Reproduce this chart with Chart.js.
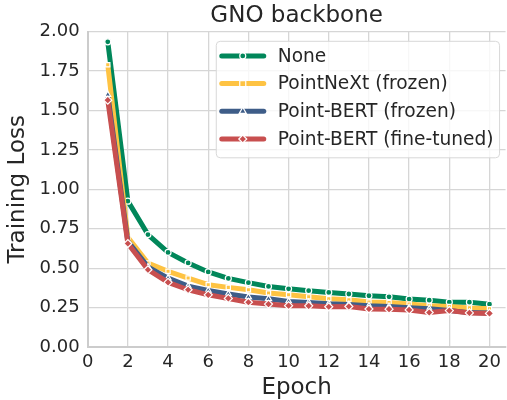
<!DOCTYPE html>
<html><head><meta charset="utf-8">
<script src="https://cdn.jsdelivr.net/npm/chart.js@4.4.1/dist/chart.umd.min.js"></script>
<style>html,body{margin:0;padding:0;background:#fff}#wrap{width:507px;height:400px;position:relative}</style>
</head><body><div id="wrap"><canvas id="c" width="507" height="400"></canvas></div>
<script>
const epochs = [1,2,3,4,5,6,7,8,9,10,11,12,13,14,15,16,17,18,19,20];
const lossNone = [1.935,0.925,0.713,0.600,0.533,0.476,0.435,0.408,0.384,0.369,0.357,0.346,0.336,0.325,0.318,0.304,0.297,0.284,0.284,0.271];
const lossPointNeXtFrozen = [1.790,0.695,0.533,0.480,0.437,0.395,0.378,0.363,0.342,0.331,0.318,0.306,0.300,0.285,0.282,0.272,0.261,0.257,0.248,0.242];
const lossPointBertFrozen = [1.600,0.670,0.508,0.437,0.386,0.358,0.336,0.317,0.306,0.289,0.282,0.274,0.270,0.261,0.257,0.249,0.242,0.232,0.218,0.216];
const lossPointBertFinetuned = [1.565,0.656,0.490,0.410,0.363,0.331,0.308,0.284,0.272,0.262,0.261,0.255,0.257,0.241,0.240,0.235,0.219,0.231,0.216,0.213];
const seriesLabels = ['None','PointNeXt (frozen)','Point-BERT (frozen)','Point-BERT (fine-tuned)'];
const xTickValues = [0,2,4,6,8,10,12,14,16,18,20];
const yTickValues = [0,0.25,0.5,0.75,1,1.25,1.5,1.75,2];
const chartTitle = 'GNO backbone';
const xTitle = 'Epoch';
const yTitle = 'Training Loss';

const FONT = "'DejaVu Sans', sans-serif";
const TEXT = '#262626';
const colors = ['#01875A', '#FEC343', '#3E5D88', '#C84F4F'];
const styles = ['circle', 'rect', 'triangle', 'rectRot'];
const radii = [3, 3, 3.5, 4];
const seriesValues = [lossNone, lossPointNeXtFrozen, lossPointBertFrozen, lossPointBertFinetuned];

function toPoints(vals) { return epochs.map((e, i) => ({x: e, y: vals[i]})); }

const datasets = seriesValues.map((vals, i) => ({
  label: seriesLabels[i],
  data: toPoints(vals),
  borderColor: colors[i],
  backgroundColor: colors[i],
  borderWidth: 5,
  tension: 0,
  borderJoinStyle: 'round',
  pointStyle: styles[i],
  pointRadius: radii[i],
  pointBackgroundColor: colors[i],
  pointBorderColor: '#ffffff',
  pointBorderWidth: 1.2,
  pointHoverRadius: radii[i],
  order: 4 - i
}));

function drawMarker(ctx, style, x, y, r, fill, stroke, lw) {
  ctx.beginPath();
  if (style === 'circle') ctx.arc(x, y, r, 0, Math.PI * 2);
  else if (style === 'rect') ctx.rect(x - r, y - r, 2 * r, 2 * r);
  else if (style === 'triangle') {
    ctx.moveTo(x, y - r * 1.15); ctx.lineTo(x + r, y + r * 0.6); ctx.lineTo(x - r, y + r * 0.6);
  } else {
    ctx.moveTo(x, y - r); ctx.lineTo(x + r, y); ctx.lineTo(x, y + r); ctx.lineTo(x - r, y);
  }
  ctx.closePath();
  ctx.fillStyle = fill; ctx.fill();
  ctx.strokeStyle = stroke; ctx.lineWidth = lw; ctx.stroke();
}

const insideLegend = {
  id: 'insideLegend',
  afterDraw(chart) {
    const ctx = chart.ctx;
    const area = chart.chartArea;
    ctx.save();
    ctx.font = '18.6px ' + FONT;
    const ds = chart.data.datasets;
    let maxW = 0;
    ds.forEach(d => { maxW = Math.max(maxW, ctx.measureText(d.label).width); });
    const padL = 5.5, lineLen = 42, gap = 14, padR = 6, rowH = 27.7;
    const w = padL + lineLen + gap + maxW + padR;
    const h = 116.5;
    const x0 = area.right - 6 - w;
    const y0 = area.top + 9.7;
    const r = 4;
    ctx.beginPath();
    ctx.moveTo(x0 + r, y0);
    ctx.lineTo(x0 + w - r, y0); ctx.quadraticCurveTo(x0 + w, y0, x0 + w, y0 + r);
    ctx.lineTo(x0 + w, y0 + h - r); ctx.quadraticCurveTo(x0 + w, y0 + h, x0 + w - r, y0 + h);
    ctx.lineTo(x0 + r, y0 + h); ctx.quadraticCurveTo(x0, y0 + h, x0, y0 + h - r);
    ctx.lineTo(x0, y0 + r); ctx.quadraticCurveTo(x0, y0, x0 + r, y0);
    ctx.closePath();
    ctx.fillStyle = 'rgba(255,255,255,0.8)';
    ctx.fill();
    ctx.strokeStyle = '#d8d8d8';
    ctx.lineWidth = 1;
    ctx.stroke();
    ds.forEach((d, i) => {
      const cy = y0 + 14.6 + i * rowH;
      const lx = x0 + padL;
      ctx.beginPath();
      ctx.moveTo(lx, cy); ctx.lineTo(lx + lineLen, cy);
      ctx.strokeStyle = d.borderColor; ctx.lineWidth = 5; ctx.lineCap = 'round';
      ctx.stroke();
      ctx.lineCap = 'butt';
      drawMarker(ctx, d.pointStyle, lx + lineLen / 2, cy, d.pointRadius, d.pointBackgroundColor, '#ffffff', 1.2);
      ctx.fillStyle = TEXT;
      ctx.textBaseline = 'middle';
      ctx.textAlign = 'left';
      ctx.fillText(d.label, lx + lineLen + gap, cy + 1);
    });
    ctx.restore();
  }
};

new Chart(document.getElementById('c'), {
  type: 'line',
  data: { datasets },
  options: {
    responsive: false,
    animation: false,
    devicePixelRatio: 1,
    layout: { autoPadding: false, padding: { left: 0, right: -1.4, top: 0, bottom: 0 } },
    plugins: {
      legend: { display: false },
      tooltip: { enabled: false },
      title: {
        display: true, text: chartTitle, fullSize: false, color: TEXT,
        font: { family: FONT, size: 23, weight: 'normal', lineHeight: 1.2 },
        padding: { top: 2, bottom: 2 }
      }
    },
    scales: {
      x: {
        type: 'linear', min: 0, max: 20.8,
        afterBuildTicks(scale) { scale.ticks = xTickValues.map(v => ({ value: v })); },
        ticks: { stepSize: 2, color: TEXT, font: { family: FONT, size: 18, lineHeight: 1.0 }, padding: 6, maxRotation: 0, autoSkip: false },
        grid: { color: '#d6d6d6', lineWidth: 1.3, drawTicks: false },
        border: { color: '#cccccc', width: 2 },
        title: { display: true, text: xTitle, color: TEXT, font: { family: FONT, size: 23, lineHeight: 1.0 }, padding: { top: 0, bottom: 0 } }
      },
      y: {
        min: 0, max: 2,
        afterBuildTicks(scale) { scale.ticks = yTickValues.map(v => ({ value: v })); },
        ticks: { color: TEXT, font: { family: FONT, size: 18 }, padding: 8, callback: v => Number(v).toFixed(2) },
        grid: { color: '#d6d6d6', lineWidth: 1.3, drawTicks: false },
        border: { color: '#cccccc', width: 2 },
        title: { display: true, text: yTitle, color: TEXT, font: { family: FONT, size: 23, lineHeight: 1.2 }, padding: { top: 4, bottom: 0 } }
      }
    }
  },
  plugins: [insideLegend]
});
</script></body></html>
